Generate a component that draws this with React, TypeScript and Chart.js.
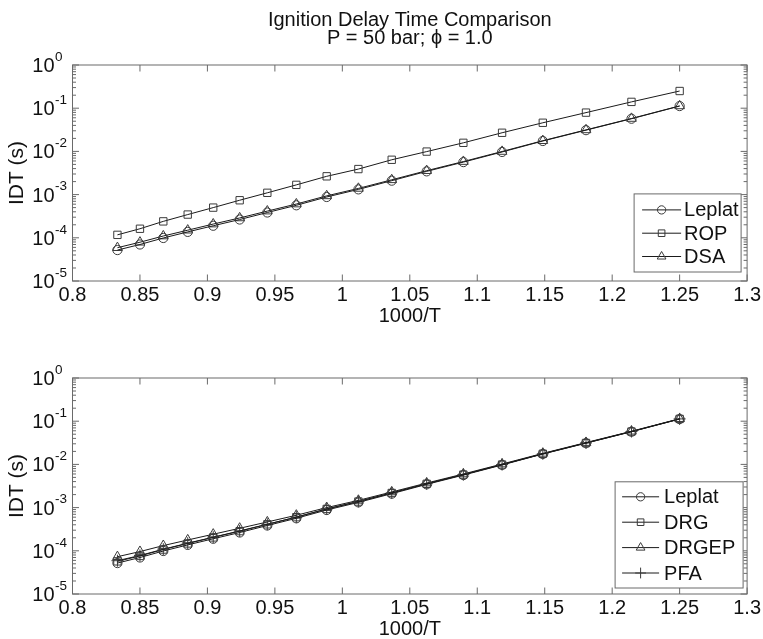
import React, { useEffect, useRef } from 'react';
import { Chart, registerables } from 'chart.js';

Chart.register(...registerables);

const FONT = "'Liberation Sans', Arial, Helvetica, sans-serif";
const INK = '#111111';
const AXIS = '#6a6a6a';
const LINE = '#1a1a1a';
const MARK = '#3a3a3a';

const titleLines = ['Ignition Delay Time Comparison', 'P = 50 bar; ϕ = 1.0'];
const xTitle = '1000/T';
const yTitle = 'IDT (s)';

// 1000/T values (T from 1200 K down to 800 K)
const invT = [0.8333, 0.85, 0.8673, 0.8854, 0.9043, 0.9239, 0.9444, 0.9659, 0.9884, 1.0119, 1.0366, 1.0625, 1.0897, 1.1184, 1.1486, 1.1806, 1.2143, 1.25];

const xTicks = [0.8, 0.85, 0.9, 0.95, 1, 1.05, 1.1, 1.15, 1.2, 1.25, 1.3];
const yExponents = [-5, -4, -3, -2, -1, 0];
const minorMultipliers = [2, 3, 4, 5, 6, 7, 8, 9];

const leplat = [5.2e-5, 7.0e-5, 9.9e-5, 1.37e-4, 1.9e-4, 2.65e-4, 3.85e-4, 5.65e-4, 8.8e-4, 1.32e-3, 2.1e-3, 3.45e-3, 5.65e-3, 9.7e-3, 0.0174, 0.031, 0.057, 0.112];
const rop = [1.17e-4, 1.62e-4, 2.4e-4, 3.45e-4, 5.0e-4, 7.4e-4, 1.1e-3, 1.68e-3, 2.65e-3, 3.9e-3, 6.4e-3, 9.9e-3, 0.0158, 0.027, 0.046, 0.079, 0.14, 0.25];
const dsa = [5.9e-5, 7.9e-5, 1.1e-4, 1.5e-4, 2.08e-4, 2.88e-4, 4.15e-4, 6.05e-4, 9.35e-4, 1.39e-3, 2.2e-3, 3.58e-3, 5.82e-3, 9.95e-3, 0.0177, 0.0315, 0.0578, 0.113];
const drg = [5.7e-5, 7.6e-5, 1.07e-4, 1.48e-4, 2.04e-4, 2.85e-4, 4.1e-4, 6.0e-4, 9.3e-4, 1.38e-3, 2.18e-3, 3.55e-3, 5.8e-3, 9.9e-3, 0.0176, 0.0313, 0.0575, 0.113];
const drgep = [7.3e-5, 9.6e-5, 1.32e-4, 1.78e-4, 2.42e-4, 3.32e-4, 4.65e-4, 6.65e-4, 1.0e-3, 1.47e-3, 2.3e-3, 3.7e-3, 6.0e-3, 0.0102, 0.018, 0.032, 0.0585, 0.114];
const pfa = [5.9e-5, 7.8e-5, 1.09e-4, 1.5e-4, 2.07e-4, 2.88e-4, 4.12e-4, 6.02e-4, 9.3e-4, 1.39e-3, 2.19e-3, 3.56e-3, 5.8e-3, 9.9e-3, 0.0176, 0.0314, 0.0577, 0.113];

type Series = { label: string; values: number[]; marker: string; radius: number };

const topSeries: Series[] = [
  { label: 'Leplat', values: leplat, marker: 'circle', radius: 4.6 },
  { label: 'ROP', values: rop, marker: 'rect', radius: 5.2 },
  { label: 'DSA', values: dsa, marker: 'triangle', radius: 5.6 },
];
const bottomSeries: Series[] = [
  { label: 'Leplat', values: leplat, marker: 'circle', radius: 4.6 },
  { label: 'DRG', values: drg, marker: 'rect', radius: 5.2 },
  { label: 'DRGEP', values: drgep, marker: 'triangle', radius: 5.6 },
  { label: 'PFA', values: pfa, marker: 'cross', radius: 6 },
];

const topLegend = { right: 6, bottom: 9, width: 107, padTop: 16, rowGap: 23.3, padBottom: 15.5, lineLeft: 8, lineLen: 39, textGap: 3 };
const bottomLegend = { right: 4, bottom: 6, width: 128, padTop: 15, rowGap: 25.4, padBottom: 15, lineLeft: 7, lineLen: 37, textGap: 5 };

function drawMarker(ctx: CanvasRenderingContext2D, style: string, x: number, y: number, r: number) {
  ctx.beginPath();
  if (style === 'circle') {
    ctx.arc(x, y, r, 0, Math.PI * 2);
  } else if (style === 'rect') {
    const s = r * Math.SQRT1_2;
    ctx.rect(x - s, y - s, 2 * s, 2 * s);
  } else if (style === 'triangle') {
    const c = Math.cos(Math.PI / 6) * r;
    ctx.moveTo(x, y - r);
    ctx.lineTo(x + c, y + r / 2);
    ctx.lineTo(x - c, y + r / 2);
    ctx.closePath();
  } else if (style === 'cross') {
    ctx.moveTo(x, y - r);
    ctx.lineTo(x, y + r);
    ctx.moveTo(x - r, y);
    ctx.lineTo(x + r, y);
  }
  ctx.stroke();
}

const matlabPlugin = {
  id: 'matlab',
  afterDraw(chart: any, _args: any, opts: any) {
    const ctx: CanvasRenderingContext2D = chart.ctx;
    const { left, right, top, bottom } = chart.chartArea;
    const xs = chart.scales.x;
    const ys = chart.scales.y;
    ctx.save();

    // axes box + inward ticks
    ctx.strokeStyle = AXIS;
    ctx.lineWidth = 1;
    const seg = (x1: number, y1: number, x2: number, y2: number) => {
      ctx.beginPath();
      ctx.moveTo(x1, y1);
      ctx.lineTo(x2, y2);
      ctx.stroke();
    };
    ctx.strokeRect(left, top, right - left, bottom - top);
    xTicks.forEach((v) => {
      const px = xs.getPixelForValue(v);
      seg(px, bottom, px, bottom - 6.5);
      seg(px, top, px, top + 6.5);
    });
    yExponents.forEach((e) => {
      const py = ys.getPixelForValue(Math.pow(10, e));
      seg(left, py, left + 6.5, py);
      seg(right, py, right - 6.5, py);
      if (e < 0) {
        minorMultipliers.forEach((m) => {
          const pm = ys.getPixelForValue(m * Math.pow(10, e));
          seg(left, pm, left + 3.5, pm);
          seg(right, pm, right - 3.5, pm);
        });
      }
    });

    // y tick labels 10^n
    ctx.fillStyle = INK;
    ctx.textBaseline = 'middle';
    yExponents.forEach((e) => {
      const py = ys.getPixelForValue(Math.pow(10, e));
      ctx.font = `20px ${FONT}`;
      ctx.textAlign = 'right';
      ctx.fillText('10', left - 18, py + 1.5);
      ctx.font = `13.5px ${FONT}`;
      ctx.textAlign = 'left';
      ctx.fillText(String(e), left - 17.5, py - 8);
    });

    // title
    if (opts.showTitle) {
      ctx.font = `20px ${FONT}`;
      ctx.textAlign = 'center';
      ctx.textBaseline = 'alphabetic';
      const cx = (left + right) / 2;
      ctx.fillText(titleLines[0], cx, top - 39);
      ctx.fillText(titleLines[1], cx, top - 21);
    }

    // legend
    const L = opts.legend;
    const ds = chart.data.datasets;
    const h = L.padTop + L.rowGap * (ds.length - 1) + L.padBottom;
    const bx = right - L.right - L.width;
    const by = bottom - L.bottom - h;
    ctx.fillStyle = '#ffffff';
    ctx.fillRect(bx, by, L.width, h);
    ctx.strokeStyle = AXIS;
    ctx.strokeRect(bx, by, L.width, h);
    ds.forEach((d: any, i: number) => {
      const ry = by + L.padTop + i * L.rowGap;
      const x0 = bx + L.lineLeft;
      const x1 = x0 + L.lineLen;
      ctx.strokeStyle = LINE;
      seg(x0, ry, x1, ry);
      ctx.strokeStyle = MARK;
      drawMarker(ctx, d.pointStyle, (x0 + x1) / 2, ry, d.pointRadius * 0.9);
      ctx.fillStyle = INK;
      ctx.font = `20px ${FONT}`;
      ctx.textAlign = 'left';
      ctx.textBaseline = 'middle';
      ctx.fillText(d.label, x1 + L.textGap, ry + 1);
    });

    ctx.restore();
  },
};

function Panel({ series, showTitle, legend, top }: { series: Series[]; showTitle: boolean; legend: any; top: number }) {
  const ref = useRef<HTMLCanvasElement>(null);
  useEffect(() => {
    const chart = new Chart(ref.current as HTMLCanvasElement, {
      type: 'scatter',
      data: {
        datasets: series.map((s) => ({
          label: s.label,
          data: invT.map((x, i) => ({ x, y: s.values[i] })),
          showLine: true,
          borderColor: LINE,
          borderWidth: 1,
          pointStyle: s.marker as any,
          pointRadius: s.radius,
          pointHoverRadius: s.radius,
          pointBorderColor: MARK,
          pointBackgroundColor: 'rgba(0,0,0,0)',
          pointBorderWidth: 1,
        })),
      },
      options: {
        responsive: false,
        animation: false,
        events: [],
        layout: { padding: { top: 65, right: 15, bottom: 0, left: 0 } },
        plugins: {
          legend: { display: false },
          tooltip: { enabled: false },
          title: { display: false },
          // @ts-ignore
          matlab: { showTitle, legend },
        },
        scales: {
          x: {
            type: 'linear',
            min: 0.8,
            max: 1.3,
            afterBuildTicks: (s: any) => {
              s.ticks = xTicks.map((v) => ({ value: v }));
            },
            afterFit: (s: any) => {
              s.height = 49;
            },
            grid: { display: false, drawTicks: false },
            border: { display: false },
            ticks: {
              font: { size: 20, family: FONT },
              color: INK,
              padding: 2,
              maxRotation: 0,
              autoSkip: false,
              callback: (v: any) => String(v),
            },
            title: {
              display: true,
              text: xTitle,
              font: { size: 20, family: FONT },
              color: INK,
              padding: { top: 0, bottom: 2 },
            },
          },
          y: {
            type: 'logarithmic',
            min: 1e-5,
            max: 1,
            afterFit: (s: any) => {
              s.width = 72.5;
            },
            grid: { display: false, drawTicks: false },
            border: { display: false },
            ticks: { display: false },
            title: {
              display: true,
              text: yTitle,
              font: { size: 21, family: FONT },
              color: INK,
              padding: { top: 5, bottom: 0 },
            },
          },
        },
      } as any,
      plugins: [matlabPlugin],
    });
    return () => chart.destroy();
  }, []);
  return (
    <canvas
      ref={ref}
      width={763}
      height={330}
      style={{ position: 'absolute', left: 0, top, width: '763px', height: '330px' }}
    />
  );
}

export default function App() {
  return (
    <div style={{ position: 'absolute', left: 0, top: 0, width: 763, height: 639, overflow: 'hidden', background: '#ffffff' }}>
      <Panel series={topSeries} showTitle={true} legend={topLegend} top={0} />
      <Panel series={bottomSeries} showTitle={false} legend={bottomLegend} top={313} />
    </div>
  );
}
